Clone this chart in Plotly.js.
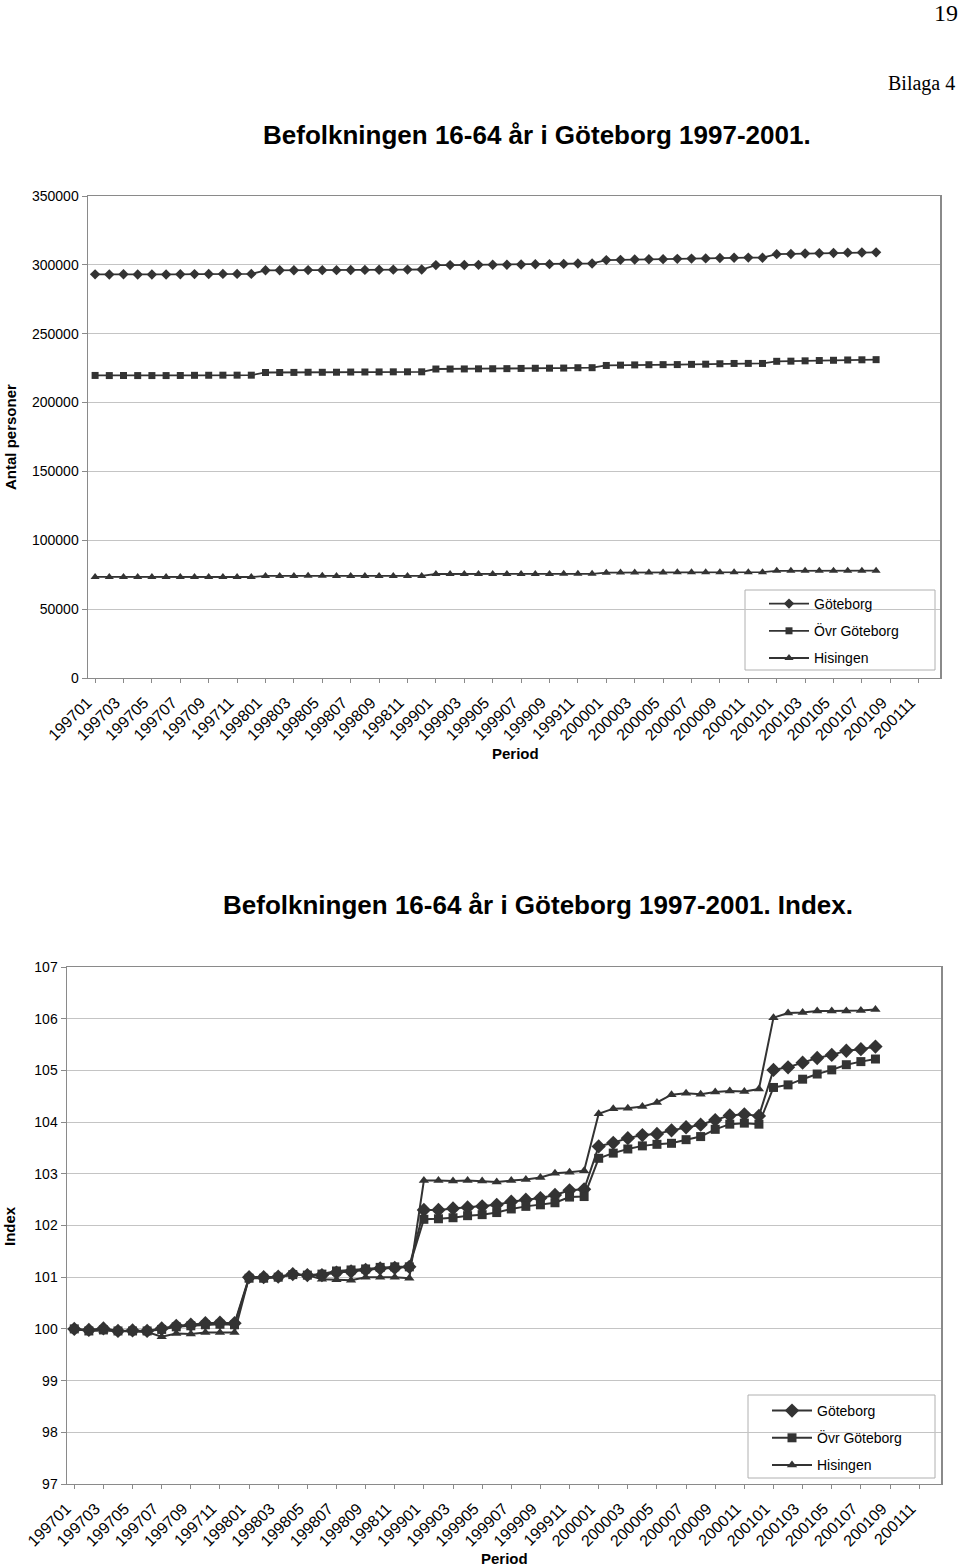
<!DOCTYPE html>
<html>
<head>
<meta charset="utf-8">
<script src="https://cdn.plot.ly/plotly-3.0.1.min.js"></script>
<style>
  html, body { margin: 0; padding: 0; background: #fff; }
  #chart { width: 960px; height: 1567px; }
</style>
</head>
<body>
<div id="chart"></div>
<script>
// ---- Categories (all months on the axis) ----
const months = [
  "199701","199702","199703","199704","199705","199706","199707","199708","199709","199710","199711","199712",
  "199801","199802","199803","199804","199805","199806","199807","199808","199809","199810","199811","199812",
  "199901","199902","199903","199904","199905","199906","199907","199908","199909","199910","199911","199912",
  "200001","200002","200003","200004","200005","200006","200007","200008","200009","200010","200011","200012",
  "200101","200102","200103","200104","200105","200106","200107","200108","200109","200110","200111","200112"
];
// Months with data (199701 - 200108)
const dataMonths = months.slice(0, 56);
// Tick labels shown every second month
const tickLabels = months.filter((m, i) => i % 2 === 0);

const seriesNames = ["Göteborg", "Övr Göteborg", "Hisingen"];

// ---- Chart 1: number of persons ----
const gbgPersons = [
  293100,293040,293130,292980,293010,292980,293130,293280,293330,293420,293450,293420,
  296030,296030,296060,296210,296150,296150,296290,296350,296440,296530,296560,296620,
  299840,299840,299930,299990,300050,300130,300310,300430,300520,300690,300960,301010,
  303450,303650,303920,304090,304150,304360,304530,304680,304940,305210,305260,305180,
  307780,307930,308200,308460,308630,308870,308960,309100
];
const ovrPersons = [
  219700,219610,219660,219610,219610,219610,219680,219790,219830,219880,219900,219880,
  221850,221850,221900,222010,221990,222030,222160,222210,222250,222320,222340,222340,
  224360,224380,224420,224510,224560,224640,224800,224910,224970,225060,225300,225320,
  226950,227170,227350,227480,227540,227590,227740,227870,228180,228400,228440,228400,
  229960,230070,230310,230530,230710,230930,231060,231170
];
const hisPersons = [
  73400,73380,73380,73370,73370,73360,73290,73330,73330,73350,73350,73350,
  74130,74130,74130,74170,74160,74100,74100,74090,74130,74130,74130,74120,
  75510,75510,75500,75510,75500,75480,75510,75520,75550,75610,75620,75650,
  76450,76530,76530,76560,76620,76730,76750,76730,76760,76780,76770,76810,
  77820,77890,77890,77910,77910,77910,77920,77940
];

// ---- Chart 2: index (199701 = 100) ----
const gbgIndex = [
  100.00,99.98,100.01,99.96,99.97,99.96,100.01,100.06,100.08,100.11,100.12,100.11,
  101.00,101.00,101.01,101.06,101.04,101.04,101.09,101.11,101.14,101.17,101.18,101.20,
  102.30,102.30,102.33,102.35,102.37,102.40,102.46,102.50,102.53,102.59,102.68,102.70,
  103.53,103.60,103.69,103.75,103.77,103.84,103.90,103.95,104.04,104.13,104.15,104.12,
  105.01,105.06,105.15,105.24,105.30,105.38,105.41,105.46
];
const ovrIndex = [
  100.00,99.96,99.98,99.96,99.96,99.96,99.99,100.04,100.06,100.08,100.09,100.08,
  100.98,100.98,101.00,101.05,101.04,101.06,101.12,101.14,101.16,101.19,101.20,101.20,
  102.12,102.13,102.15,102.19,102.21,102.25,102.32,102.37,102.40,102.44,102.55,102.56,
  103.30,103.40,103.48,103.54,103.57,103.59,103.66,103.72,103.86,103.96,103.98,103.96,
  104.67,104.72,104.83,104.93,105.01,105.11,105.17,105.22
];
const hisIndex = [
  100.00,99.97,99.97,99.96,99.96,99.94,99.85,99.91,99.90,99.93,99.93,99.93,
  101.00,100.99,101.00,101.05,101.04,100.96,100.95,100.94,101.00,101.00,101.00,100.98,
  102.87,102.87,102.86,102.87,102.86,102.84,102.87,102.89,102.93,103.01,103.03,103.06,
  104.16,104.26,104.27,104.30,104.38,104.53,104.56,104.54,104.58,104.60,104.59,104.64,
  106.02,106.11,106.12,106.15,106.15,106.15,106.16,106.18
];

// ---- Styling ----
const W = 960, H = 1567;
const px = x => x / W;
const py = y => 1 - y / H;
const FONT = "Liberation Sans, Arial, Helvetica, sans-serif";
const INK = "#333333";
const GRID = "#c4c4c4";
const AXIS = "#8a8a8a";

const symbols = ["diamond", "square", "triangle-up"];
const sizesTop = [8, 7, 8];
const sizesIdx = [11, 9, 9];

const topSeries = [gbgPersons, ovrPersons, hisPersons];
const idxSeries = [gbgIndex, ovrIndex, hisIndex];

const traces = [];
topSeries.forEach((ys, i) => {
  traces.push({
    type: "scatter", mode: "lines+markers",
    x: dataMonths, y: ys, name: seriesNames[i],
    xaxis: "x", yaxis: "y", legend: "legend", legendgroup: "a" + i,
    line: { color: INK, width: 1.8 },
    marker: { symbol: symbols[i], size: sizesTop[i], color: INK }
  });
});
idxSeries.forEach((ys, i) => {
  traces.push({
    type: "scatter", mode: "lines+markers",
    x: dataMonths, y: ys, name: seriesNames[i],
    xaxis: "x2", yaxis: "y2", legend: "legend2", legendgroup: "b" + i,
    line: { color: INK, width: 2 },
    marker: { symbol: symbols[i], size: sizesIdx[i], color: INK }
  });
});

const xCommon = {
  type: "category", categoryorder: "array", categoryarray: months,
  range: [-0.5, 59.5],
  tickvals: tickLabels, ticktext: tickLabels, tickangle: -45,
  tickfont: { family: FONT, size: 16, color: "#000" },
  ticklabelshift: -8, ticklabelstandoff: 4,
  showgrid: false, zeroline: false,
  showline: true, linecolor: AXIS, linewidth: 1, mirror: true,
  ticks: "outside", ticklen: 4, tickcolor: AXIS
};
const yCommon = {
  tickfont: { family: FONT, size: 14, color: "#000" },
  showgrid: true, gridcolor: GRID, gridwidth: 1, zeroline: false,
  showline: true, linecolor: AXIS, linewidth: 1.5, mirror: true,
  ticks: "outside", ticklen: 5, tickcolor: AXIS
};

const legendCommon = {
  font: { family: FONT, size: 14, color: "#000" },
  bgcolor: "rgba(255,255,255,0)", borderwidth: 0,
  xanchor: "left", yanchor: "top",
  traceorder: "grouped", tracegroupgap: 6, itemwidth: 40
};

const ann = (text, x, y, opts) => Object.assign({
  text, x: px(x), y: py(y), xref: "paper", yref: "paper",
  showarrow: false, xanchor: "center", yanchor: "middle",
  font: { family: FONT, size: 14, color: "#000" }
}, opts || {});

const layout = {
  width: W, height: H,
  margin: { l: 0, r: 0, t: 0, b: 0 },
  paper_bgcolor: "#fff", plot_bgcolor: "#fff",
  showlegend: true,
  xaxis: Object.assign({}, xCommon, { domain: [px(88), px(940)], anchor: "y" }),
  yaxis: Object.assign({}, yCommon, {
    domain: [py(678), py(196)], anchor: "x",
    range: [0, 350000], dtick: 50000, tickformat: "d"
  }),
  xaxis2: Object.assign({}, xCommon, { domain: [px(67), px(941)], anchor: "y2" }),
  yaxis2: Object.assign({}, yCommon, {
    domain: [py(1484), py(967)], anchor: "x2",
    range: [97, 107], dtick: 1, tickformat: "d"
  }),
  legend: Object.assign({}, legendCommon, { x: px(764), y: py(588) }),
  legend2: Object.assign({}, legendCommon, { x: px(767), y: py(1395) }),
  shapes: [
    { type: "rect", xref: "paper", yref: "paper",
      x0: px(745), x1: px(935), y0: py(670), y1: py(590),
      line: { color: "#b0b0b0", width: 1 }, fillcolor: "#fff", layer: "below" },
    { type: "rect", xref: "paper", yref: "paper",
      x0: px(748), x1: px(935), y0: py(1478), y1: py(1395),
      line: { color: "#b0b0b0", width: 1 }, fillcolor: "#fff", layer: "below" }
  ],
  annotations: [
    ann("19", 946, 13, { font: { family: "Liberation Serif, Times New Roman, serif", size: 24, color: "#000" } }),
    ann("Bilaga 4", 921, 83, { font: { family: "Liberation Serif, Times New Roman, serif", size: 20, color: "#000" } }),
    ann("<b>Befolkningen 16-64 år i Göteborg 1997-2001.</b>", 537, 135,
        { font: { family: FONT, size: 26, color: "#000" } }),
    ann("<b>Antal personer</b>", 10, 437, { textangle: -90, font: { family: FONT, size: 15, color: "#000" } }),
    ann("<b>Period</b>", 515, 753, { font: { family: FONT, size: 15, color: "#000" } }),
    ann("<b>Befolkningen 16-64 år i Göteborg 1997-2001. Index.</b>", 538, 905,
        { font: { family: FONT, size: 26, color: "#000" } }),
    ann("<b>Index</b>", 9, 1226, { textangle: -90, font: { family: FONT, size: 15, color: "#000" } }),
    ann("<b>Period</b>", 505, 1558, { font: { family: FONT, size: 15, color: "#000" } })
  ]
};

Plotly.newPlot("chart", traces, layout, { staticPlot: true, displayModeBar: false });
</script>
</body>
</html>
